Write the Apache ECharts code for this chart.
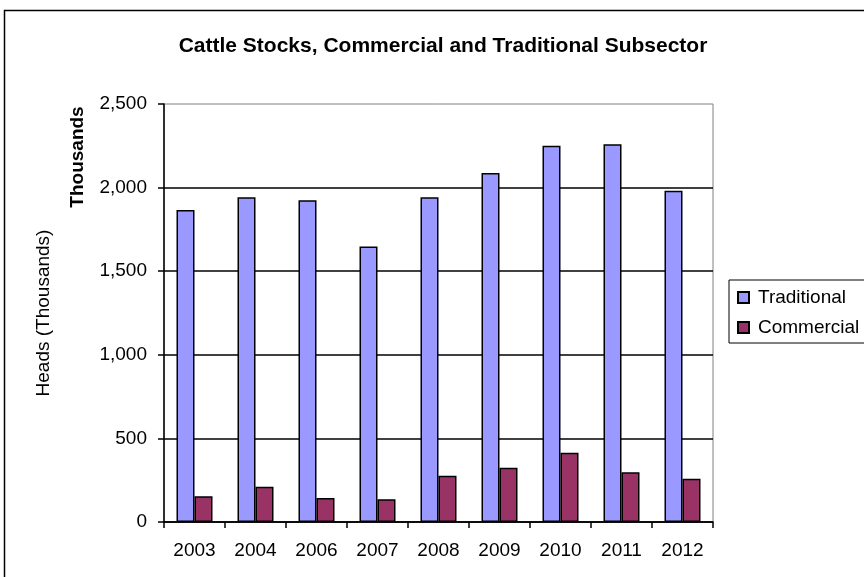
<!DOCTYPE html>
<html>
<head>
<meta charset="utf-8">
<script src="https://cdn.jsdelivr.net/npm/echarts@6/dist/echarts.min.js"></script>
<style>
  html, body { margin: 0; padding: 0; background: #fff; }
  #chart { width: 864px; height: 577px; }
</style>
</head>
<body>
<div id="chart"></div>
<script>
const years = ['2003', '2004', '2006', '2007', '2008', '2009', '2010', '2011', '2012'];
const traditional = [1866, 1942, 1924, 1647, 1942, 2087, 2251, 2259, 1981];
const commercial = [154, 211, 144, 136, 277, 325, 414, 297, 259];
const yTicks = [0, 500, 1000, 1500, 2000, 2500];

const font = 'Liberation Sans, Arial, sans-serif';

const chart = echarts.init(document.getElementById('chart'));
chart.setOption({
  animation: false,
  textStyle: { fontFamily: font, color: '#000' },
  title: {
    text: 'Cattle Stocks, Commercial and Traditional Subsector',
    left: 438,
    textAlign: 'center',
    top: 31,
    textStyle: { fontFamily: font, fontSize: 21, fontWeight: 'bold', color: '#000' }
  },
  grid: {
    left: 164,
    right: 151,
    top: 104,
    bottom: 55,
    show: true,
    borderColor: '#808080',
    borderWidth: 1
  },
  legend: {
    orient: 'vertical',
    left: 729,
    top: 280,
    width: 140,
    padding: [8, 20, 6, 8],
    itemGap: 11,
    itemWidth: 11,
    itemHeight: 11,
    icon: 'rect',
    borderColor: '#000',
    borderWidth: 1,
    textStyle: { fontFamily: font, fontSize: 19, color: '#000', padding: [0, 0, 0, 4] },
    data: ['Traditional', 'Commercial']
  },
  graphic: [
    {
      type: 'rect',
      shape: { x: 4.5, y: 10.5, width: 900, height: 600 },
      style: { fill: 'none', stroke: '#000', lineWidth: 1.5 },
      silent: true
    },
    {
      type: 'text',
      x: 78,
      y: 157,
      rotation: Math.PI / 2,
      style: {
        text: 'Thousands',
        fontFamily: font,
        fontSize: 19,
        fontWeight: 'bold',
        fill: '#000',
        align: 'center',
        verticalAlign: 'middle'
      }
    }
  ],
  xAxis: {
    type: 'category',
    data: years,
    axisLine: { lineStyle: { color: '#000', width: 1.5 } },
    axisTick: { show: true, alignWithLabel: false, length: 6, lineStyle: { color: '#000', width: 1.5 } },
    axisLabel: { fontFamily: font, fontSize: 19, color: '#000', margin: 19 }
  },
  yAxis: {
    type: 'value',
    min: yTicks[0],
    max: yTicks[yTicks.length - 1],
    interval: 500,
    name: 'Heads (Thousands)',
    nameLocation: 'middle',
    nameGap: 111,
    nameTextStyle: { fontFamily: font, fontSize: 19, color: '#000' },
    axisLine: { show: true, lineStyle: { color: '#000', width: 1.5 } },
    axisTick: { show: true, length: 6, lineStyle: { color: '#000', width: 1.5 } },
    splitLine: { showMaxLine: false, lineStyle: { color: '#000', width: 1.5 } },
    axisLabel: {
      fontFamily: font,
      fontSize: 19,
      color: '#000',
      margin: 17,
      formatter: v => v.toLocaleString('en-US')
    }
  },
  series: [
    {
      name: 'Traditional',
      type: 'bar',
      data: traditional,
      barWidth: 18,
      barGap: 0,
      itemStyle: { color: '#9999FF', borderColor: '#000', borderWidth: 1.5 }
    },
    {
      name: 'Commercial',
      type: 'bar',
      data: commercial,
      barWidth: 18,
      itemStyle: { color: '#993366', borderColor: '#000', borderWidth: 1.5 }
    }
  ]
});
</script>
</body>
</html>
